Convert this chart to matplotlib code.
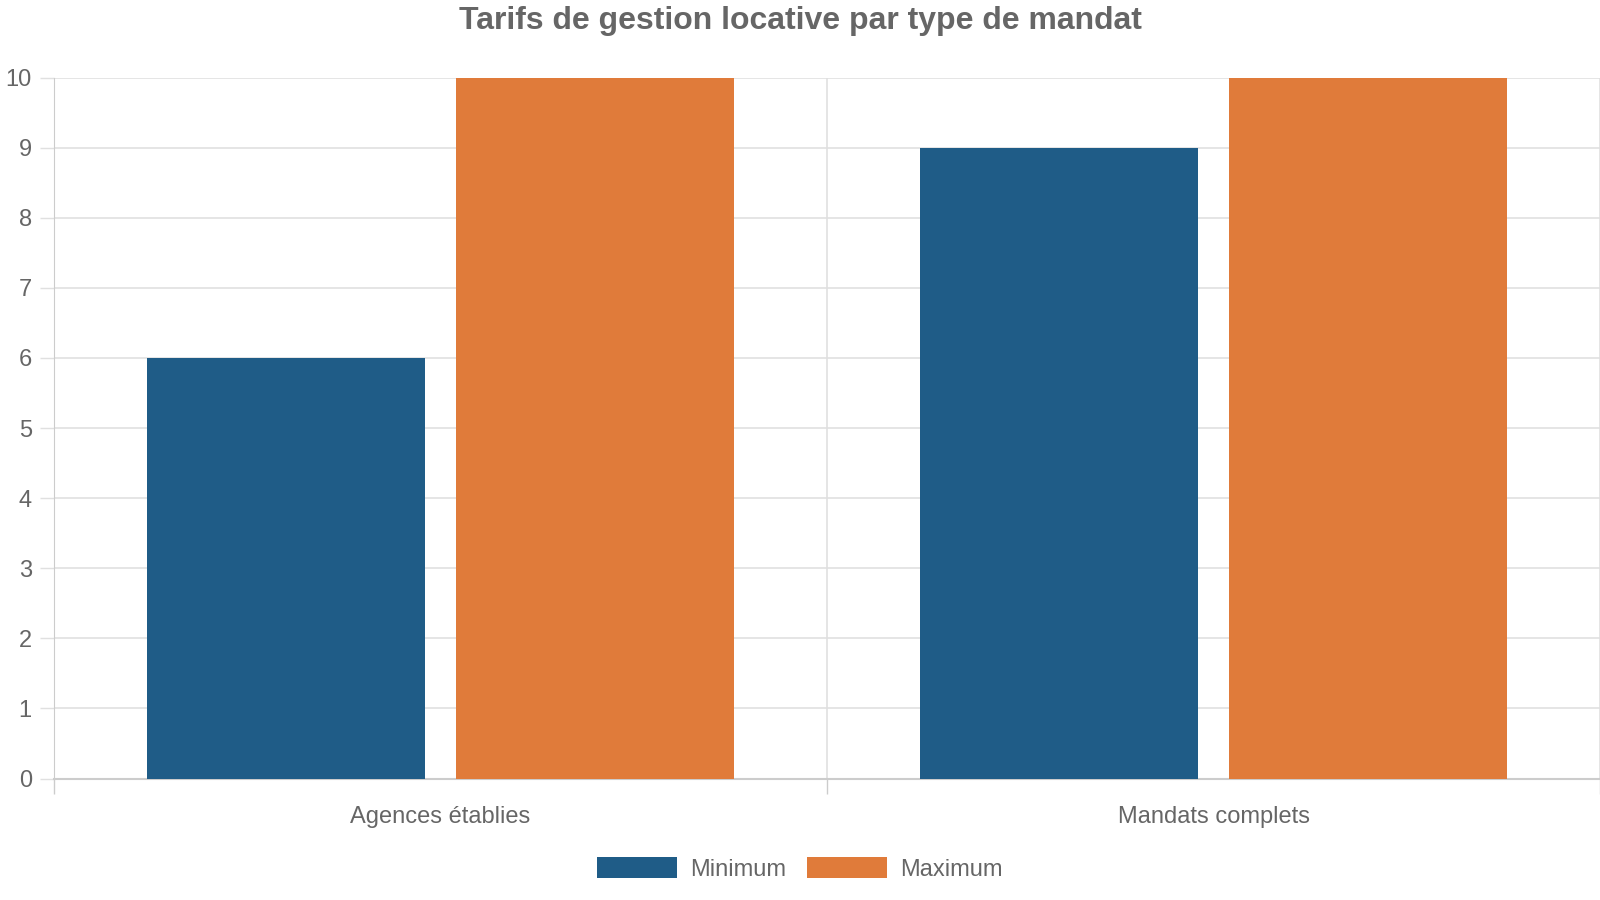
import matplotlib.pyplot as plt
import numpy as np

# ------------------------------------------------------------
# Data
# ------------------------------------------------------------
categories = ["Agences établies", "Mandats complets"]
series_names = ["Minimum", "Maximum"]
minimum = [6, 9]
maximum = [10, 10]
y_ticks = list(range(0, 11))

COLORS = ["#1f5c87", "#e07b3a"]
TEXT = "#666666"
GRID = "#e0e0e0"
AXIS = "#cccccc"

plt.rcParams["font.family"] = ["Liberation Sans", "DejaVu Sans"]

fig = plt.figure(figsize=(16, 9), dpi=100)
ax = fig.add_axes([54 / 1600, 1 - 778.6 / 900, 1 - 54 / 1600, (778.6 - 77.5) / 900])

x = np.arange(len(categories))
width = 0.36
offset = 0.2
ax.bar(x - offset, minimum, width, color=COLORS[0], label=series_names[0], zorder=3)
ax.bar(x + offset, maximum, width, color=COLORS[1], label=series_names[1], zorder=3)

ax.set_xlim(-0.5, len(categories) - 0.5)
ax.set_ylim(0, 10)
ax.set_yticks(y_ticks)

# category labels at centres, separators at boundaries
ax.set_xticks(x)
ax.set_xticklabels(categories)
ax.set_xticks(np.arange(len(categories) + 1) - 0.5, minor=True)
ax.tick_params(axis="x", which="major", length=0, pad=20, labelsize=17, labelcolor=TEXT)
ax.tick_params(axis="x", which="minor", length=11, width=1, color=AXIS)
ax.tick_params(axis="y", length=10, width=1, color=GRID, pad=6, labelsize=17, labelcolor=TEXT)

ax.grid(axis="y", color=GRID, linewidth=1.2, zorder=0)
ax.grid(axis="x", which="minor", color=GRID, linewidth=1.2, zorder=0)
ax.set_axisbelow(True)

for side in ["top", "right"]:
    ax.spines[side].set_visible(False)
ax.spines["left"].set_color(AXIS)
ax.spines["bottom"].set_color(AXIS)
ax.spines["bottom"].set_linewidth(1.5)

fig.text(0.5, 1 - 21 / 900, "Tarifs de gestion locative par type de mandat",
         ha="center", va="center", fontsize=23, fontweight="bold", color=TEXT)

fig.legend(loc="center", bbox_to_anchor=(0.5, 1 - 869 / 900), ncol=2, frameon=False,
           fontsize=17, labelcolor=TEXT, handlelength=3.37, handleheight=1.0,
           handletextpad=0.56, columnspacing=0.9)

fig.savefig("out.png", dpi=100)
